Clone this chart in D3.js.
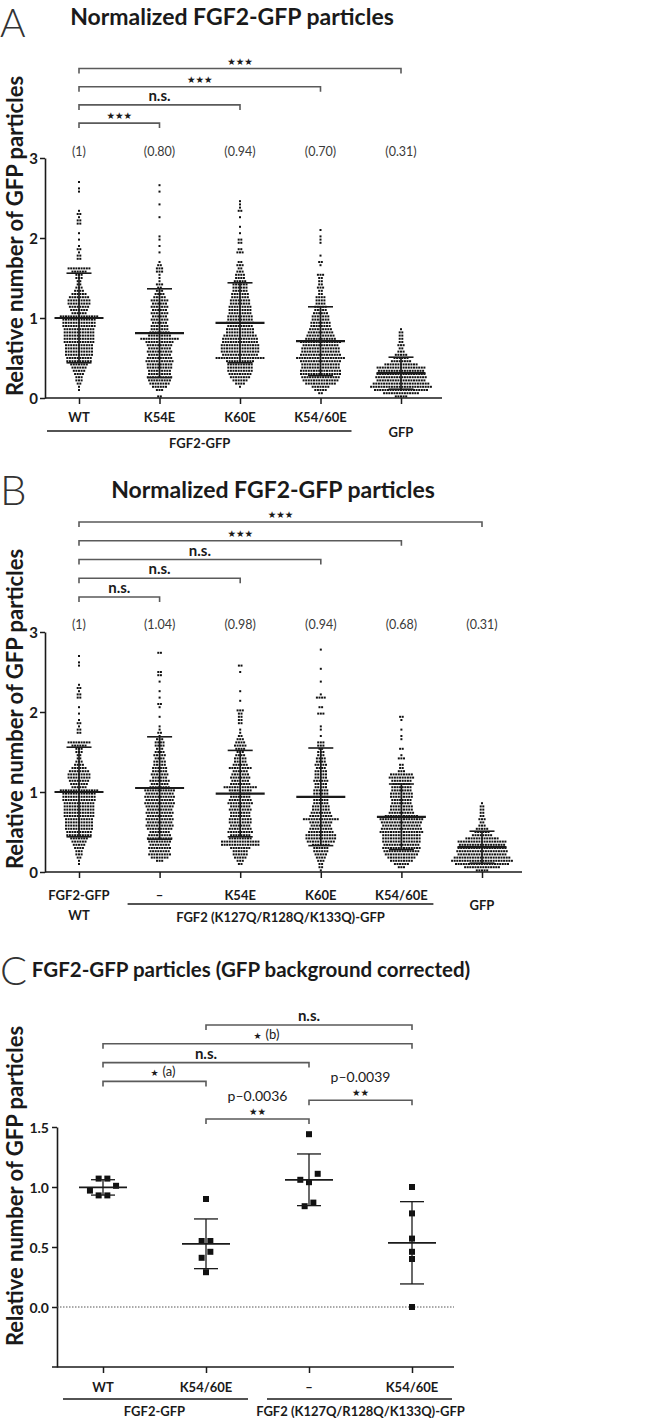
<!DOCTYPE html>
<html><head><meta charset="utf-8">
<script src="https://cdn.jsdelivr.net/npm/d3@7/dist/d3.min.js"></script>
<style>
body{margin:0;background:#fff}
svg{display:block}
text{font-family:Lato,"Open Sans","DejaVu Sans",sans-serif}
</style></head><body>
<svg id="chart" width="650" height="1418"></svg>
<script>
// ================= DATA =================
const BIN = 0.04; // value height of one row of dots in the scatter columns

// ---- Panel A ----
const catsA = ["WT","K54E","K60E","K54/60E","GFP"];
const ratiosA = ["(1)","(0.80)","(0.94)","(0.70)","(0.31)"];
const meanA = [1.00,0.81,0.94,0.71,0.31];
const sdA = [0.56,0.555,0.50,0.43,0.20];
const bracketsA = [[0,4,"★★★"],[0,3,"★★★"],[0,2,"n.s."],[0,1,"★★★"]];

// dots per row (row i covers values i*BIN .. (i+1)*BIN)
const countsWT = [0,0,1,1,2,3,3,4,5,6, 7,10,10,11,11,11,11,12,12,12, 12,12,13,13,13,15,6,7,8,9, 9,8,6,4,3,2,2,3,3,6, 9,0,0,2,2,1,2,1,0,1, 0,1,0,0,2,2,1,2,1,0, 0,0,0,0,1,1,0,1];
const countsA_K54E = [2,0,3,6,8,9,10,9,9,10, 10,11,10,9,10,9,10,11,15,9, 8,7,7,6,7,6,7,6,7,6, 7,5,4,3,2,3,1,1,1,3, 3,2,1,0,0,1,0,1,0,1, 1,0,0,0,0,0,1,0,0,0, 1,0,0,0,1,0,1];
const countsA_K60E = [0,0,0,1,4,6,8,9,10,10, 10,11,19,14,15,15,15,14,14,13, 11,11,10,11,10,10,9,9,9,8, 8,7,7,6,6,6,5,4,4,3, 2,3,2,0,0,3,2,0,2,2, 0,1,0,1,0,0,1,0,2,1, 1,1];
const countsA_K5460 = [0,2,5,7,12,14,15,16,16,15, 15,16,19,16,15,15,14,16,12,11, 10,9,8,8,7,7,6,5,5,4, 4,4,2,2,3,2,2,2,3,0, 0,1,2,0,1,0,0,0,1,1, 1,0,1];
const countsGFP = [5,14,21,24,22,19,20,19,18,19, 13,8,6,5,3,2,3,2,2,2, 2,1];

// ---- Panel B ----
const catsB = ["FGF2-GFP","–","K54E","K60E","K54/60E","GFP"];
const ratiosB = ["(1)","(1.04)","(0.98)","(0.94)","(0.68)","(0.31)"];
const meanB = [1.00,1.05,0.98,0.94,0.69,0.31];
const sdB = [0.56,0.64,0.54,0.61,0.41,0.20];
const bracketsB = [[0,5,"★★★"],[0,4,"★★★"],[0,3,"n.s."],[0,2,"n.s."],[0,1,"n.s."]];

const countsB_minus = [0,0,0,3,7,9,8,9,8,9, 10,9,8,10,11,10,11,10,11,10, 11,12,11,12,11,12,8,7,8,6, 7,6,6,5,5,4,5,4,3,4, 4,3,1,2,1,1,0,0,1,0, 0,1,2,0,1,0,1,0,0,1, 0,2,2,0,0,0,0,0,2];
const countsB_K54E = [0,0,2,3,5,6,6,8,15,15, 9,8,10,9,8,9,9,8,8,9, 8,10,9,8,8,9,13,8,7,8, 7,6,9,6,5,5,4,3,4,5, 4,3,2,1,1,0,2,2,2,2, 3,0,0,1,0,0,1,0,0,0, 0,0,1,0,2];
const countsB_K60E = [1,2,2,3,4,5,6,6,7,11, 12,12,10,9,8,9,14,9,8,7, 7,6,6,6,6,6,5,5,6,5, 5,5,4,5,4,4,3,3,2,3, 3,0,1,0,1,1,0,0,0,3, 0,2,0,0,4,1,0,0,0,1, 0,0,0,1,0,0,0,0,0,1];
const countsB_K5460 = [0,3,6,9,11,13,14,15,14,15, 15,15,17,16,15,16,17,13,10,9, 9,8,8,9,9,8,8,7,8,10, 9,3,2,2,0,3,1,0,2,0, 0,1,1,0,1,0,0,1,2];

// ---- Panel C ----
const catsC = ["WT","K54/60E","–","K54/60E"];
const valsC_WT = [1.07,1.07,1.01,0.97,0.93,0.93];
const valsC_K5460 = [0.90,0.55,0.55,0.46,0.41,0.29];
const valsC_mutMinus = [1.44,1.11,1.06,1.04,0.87,0.84];
const valsC_mutK5460 = [1.00,0.78,0.57,0.46,0.40,0.00];
const bracketsC = [[1,3,"n.s."],[0,3,"★ (b)"],[0,2,"n.s."],[0,1,"★ (a)"],[2,3,"★★","p–0.0039"],[1,2,"★★","p–0.0036"]];

// ================= DRAWING =================
const svg = d3.select("#chart");
const INK = "#1a1a1a", BR = "#5a5a5a";
const DX = 2.6, DS = 2.0; // dot spacing & size

function label(g, x, y, s, o = {}) {
  return g.append("text").attr("x", x).attr("y", y)
    .attr("text-anchor", o.anchor || "middle")
    .attr("font-size", o.size || 13)
    .attr("font-weight", o.weight || "normal")
    .attr("fill", o.fill || INK).text(s);
}
function yTitle(g, yc) {
  g.append("text").attr("transform", `translate(23,${yc}) rotate(-90)`)
    .attr("text-anchor", "middle").attr("font-size", 22).attr("font-weight", "bold")
    .attr("fill", INK).text("Relative number of GFP particles");
}
function brackets(g, x, list, top, step) {
  list.forEach((b, i) => {
    const yb = top + i * step, x1 = x(b[0]), x2 = x(b[1]), xm = (x1 + x2) / 2;
    g.append("path").attr("d", `M${x1},${yb + 5}V${yb}H${x2}V${yb + 5}`)
      .attr("fill", "none").attr("stroke", BR).attr("stroke-width", 1.6);
    const t = b[2];
    if (t === "n.s.") label(g, xm, yb - 4, t, { size: 15, weight: "bold" });
    else if (t.startsWith("★ ")) {
      const tx = g.append("text").attr("x", xm - 4).attr("y", yb - 5).attr("fill", INK).attr("font-size", 13);
      tx.append("tspan").attr("font-size", 9).attr("font-family", "DejaVu Sans").text("★");
      tx.append("tspan").attr("dx", 4).text(t.slice(2));
    } else {
      label(g, xm, yb - 4, t, { size: 9.5 }).attr("font-family", "DejaVu Sans");
    }
    if (b[3]) label(g, xm, yb - 18, b[3], { size: 14 });
  });
}
function meanSD(g, cx, y, m, s, wm, ws, swM, swS) {
  g.append("line").attr("x1", cx).attr("x2", cx).attr("y1", y(m - s)).attr("y2", y(m + s))
    .attr("stroke", INK).attr("stroke-width", swS);
  [m - s, m + s].forEach(v => g.append("line").attr("x1", cx - ws).attr("x2", cx + ws)
    .attr("y1", y(v)).attr("y2", y(v)).attr("stroke", INK).attr("stroke-width", swS));
  g.append("line").attr("x1", cx - wm).attr("x2", cx + wm).attr("y1", y(m)).attr("y2", y(m))
    .attr("stroke", INK).attr("stroke-width", swM);
}

function dotPanel(o) {
  const g = svg.append("g");
  const y = d3.scaleLinear().domain([0, 3]).range([o.y0, o.y3]);
  const x = d3.scalePoint().domain(d3.range(o.counts.length)).range(o.xr);
  label(g, 0, o.letterY, o.letter, { anchor: "start", size: o.letterSize, weight: 300, fill: "#333" });
  label(g, o.titleX, o.titleY, "Normalized FGF2-GFP particles", { size: 23, weight: "bold" });
  yTitle(g, o.yTitleC);
  const ya = g.append("g").attr("transform", `translate(45,0)`)
    .call(d3.axisLeft(y).tickValues([0, 1, 2, 3]).tickSize(5).tickPadding(2).tickSizeOuter(0).tickFormat(d3.format("d")));
  ya.select(".domain").attr("stroke", INK).attr("stroke-width", 1.6);
  ya.selectAll(".tick line").attr("stroke", INK).attr("stroke-width", 1.5);
  ya.selectAll(".tick text").attr("font-size", 15).attr("font-weight", "bold").attr("fill", INK)
    .attr("font-family", "Lato").attr("dy", "0.36em");
  g.append("line").attr("x1", 45).attr("x2", o.axisEnd).attr("y1", o.y0).attr("y2", o.y0)
    .attr("stroke", INK).attr("stroke-width", 1.6);
  const xa = g.append("g").attr("transform", `translate(0,${o.y0})`)
    .call(d3.axisBottom(x).tickSize(6).tickFormat(""));
  xa.select(".domain").remove();
  xa.selectAll(".tick line").attr("stroke", INK).attr("stroke-width", 1.5);
  o.counts.forEach((arr, ci) => {
    const pts = [];
    arr.forEach((n, i) => { for (let j = 0; j < n; j++) pts.push({ v: (i + 0.5) * BIN, k: j - (n - 1) / 2 }); });
    g.append("g").selectAll("rect").data(pts).join("rect")
      .attr("x", d => x(ci) + d.k * DX - DS / 2).attr("y", d => y(d.v) - DS / 2)
      .attr("width", DS).attr("height", DS).attr("fill", "#111");
    meanSD(g, x(ci), y, o.means[ci], o.sds[ci], 24.5, 12.5, 2.2, 1.6);
    label(g, x(ci), o.ratioY, o.ratios[ci], { size: 12.5, fill: "#3a3a3a" });
  });
  brackets(g, x, o.brackets, o.brTop, o.brStep);
  return { g, x };
}

// ---- Panel A ----
{
  const { g, x } = dotPanel({
    letter: "A", letterY: 37, letterSize: 39, titleX: 232, titleY: 25, yTitleC: 236,
    counts: [countsWT, countsA_K54E, countsA_K60E, countsA_K5460, countsGFP],
    means: meanA, sds: sdA, ratios: ratiosA,
    y0: 398, y3: 158, xr: [79, 401], axisEnd: 442, ratioY: 156,
    brackets: bracketsA, brTop: 68.5, brStep: 18.2
  });
  catsA.slice(0, 4).forEach((c, i) => label(g, x(i), 422, c, { weight: "bold" }));
  label(g, x(4), 437, catsA[4], { weight: "bold" });
  g.append("line").attr("x1", x(0) - 32).attr("x2", x(3) + 31).attr("y1", 431).attr("y2", 431)
    .attr("stroke", INK).attr("stroke-width", 1.3);
  label(g, (x(0) + x(3)) / 2, 448, "FGF2-GFP", { weight: "bold" });
}

// ---- Panel B ----
{
  const { g, x } = dotPanel({
    letter: "B", letterY: 505, letterSize: 42, titleX: 273, titleY: 498, yTitleC: 709,
    counts: [countsWT, countsB_minus, countsB_K54E, countsB_K60E, countsB_K5460, countsGFP],
    means: meanB, sds: sdB, ratios: ratiosB,
    y0: 872, y3: 632, xr: [79, 482], axisEnd: 522, ratioY: 629,
    brackets: bracketsB, brTop: 522, brStep: 18.75
  });
  catsB.slice(0, 5).forEach((c, i) => label(g, x(i), 900, c, { weight: "bold" }));
  label(g, x(0), 920, "WT", { weight: "bold" });
  label(g, x(5), 910, catsB[5], { weight: "bold" });
  g.append("line").attr("x1", x(1) - 32).attr("x2", x(4) + 32).attr("y1", 904).attr("y2", 904)
    .attr("stroke", INK).attr("stroke-width", 1.3);
  label(g, (x(1) + x(4)) / 2, 922, "FGF2 (K127Q/R128Q/K133Q)-GFP", { weight: "bold" });
}

// ---- Panel C ----
{
  const g = svg.append("g");
  const y = d3.scaleLinear().domain([-0.5, 1.5]).range([1367, 1127]);
  const x = d3.scalePoint().domain(d3.range(catsC.length)).range([103, 412]);
  label(g, 0, 985, "C", { anchor: "start", size: 40, weight: 300, fill: "#333" });
  label(g, 251, 977, "FGF2-GFP particles (GFP background corrected)", { size: 20.5, weight: "bold" });
  yTitle(g, 1186);
  const ya = g.append("g").attr("transform", `translate(57,0)`)
    .call(d3.axisLeft(y).tickValues([0, 0.5, 1, 1.5]).tickSize(5).tickPadding(3).tickSizeOuter(0).tickFormat(d3.format(".1f")));
  ya.select(".domain").attr("stroke", INK).attr("stroke-width", 1.6);
  ya.selectAll(".tick line").attr("stroke", INK).attr("stroke-width", 1.5);
  ya.selectAll(".tick text").attr("font-size", 14).attr("font-weight", "bold").attr("fill", INK)
    .attr("font-family", "Lato").attr("dy", "0.36em");
  g.append("line").attr("x1", 52).attr("x2", 454).attr("y1", y(-0.5)).attr("y2", y(-0.5))
    .attr("stroke", INK).attr("stroke-width", 1.6);
  const xa = g.append("g").attr("transform", `translate(0,${y(-0.5)})`)
    .call(d3.axisBottom(x).tickSize(6).tickFormat(""));
  xa.select(".domain").remove();
  xa.selectAll(".tick line").attr("stroke", INK).attr("stroke-width", 1.5);
  g.append("line").attr("x1", 57).attr("x2", 454).attr("y1", y(0)).attr("y2", y(0))
    .attr("stroke", "#555").attr("stroke-width", 1).attr("stroke-dasharray", "1.5,1.5");

  const SQ = 6, STEP = 8.7;
  [valsC_WT, valsC_K5460, valsC_mutMinus, valsC_mutK5460].forEach((vals, ci) => {
    // group near-equal values into rows, spread each row symmetrically
    const sorted = vals.slice().sort((a, b) => b - a);
    const rows = [];
    sorted.forEach((v, i) => {
      if (i > 0 && y(v) - y(sorted[i - 1]) < SQ + 0.5) rows[rows.length - 1].push(v); else rows.push([v]);
    });
    const pts = [];
    rows.forEach(r => {
      const n = r.length;
      const slots = d3.range(n).map(j => (j - (n - 1) / 2) * STEP)
        .sort((a, b) => Math.abs(b) - Math.abs(a) || b - a);
      r.forEach((v, j) => pts.push({ v, dx: slots[j] }));
    });
    g.append("g").selectAll("rect").data(pts).join("rect")
      .attr("x", d => x(ci) + d.dx - SQ / 2).attr("y", d => y(d.v) - SQ / 2)
      .attr("width", SQ).attr("height", SQ).attr("fill", "#111");
    meanSD(g, x(ci), y, d3.mean(vals), d3.deviation(vals), 24, 12, 1.8, 1.3);
    label(g, x(ci), 1392, catsC[ci], { weight: "bold" });
  });
  g.append("line").attr("x1", x(0) - 40).attr("x2", x(1) + 42).attr("y1", 1399).attr("y2", 1399)
    .attr("stroke", INK).attr("stroke-width", 1.3);
  g.append("line").attr("x1", x(2) - 42).attr("x2", x(3) + 40).attr("y1", 1399).attr("y2", 1399)
    .attr("stroke", INK).attr("stroke-width", 1.3);
  label(g, (x(0) + x(1)) / 2, 1416, "FGF2-GFP", { weight: "bold" });
  label(g, (x(2) + x(3)) / 2, 1416, "FGF2 (K127Q/R128Q/K133Q)-GFP", { weight: "bold" });
  brackets(g, x, bracketsC, 1025, 18.8);
}
</script></body></html>
